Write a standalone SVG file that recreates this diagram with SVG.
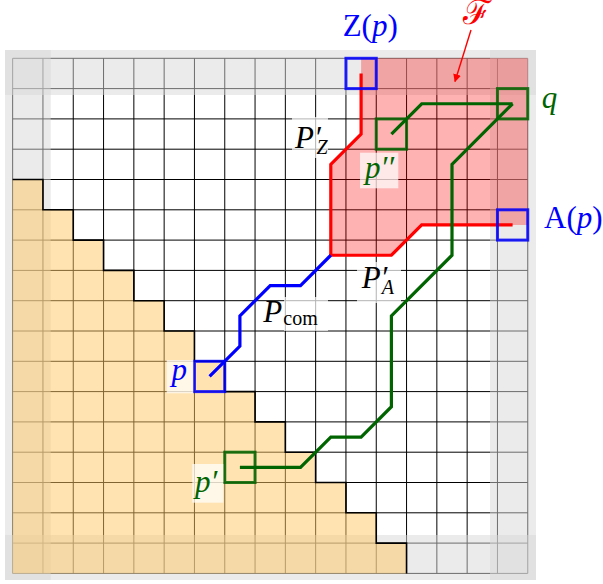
<svg xmlns="http://www.w3.org/2000/svg" width="603" height="584" viewBox="0 0 603 584">
<defs>
<style>
.grid{fill:none;stroke:#000;stroke-width:1}
.strip{fill:#d8d8d8;fill-opacity:0.5}
.bg{fill:#fff;fill-opacity:0.7}
.t{font-family:"Liberation Serif","DejaVu Serif",serif;font-size:31px}
.i{font-style:italic}
.sub{font-size:20px}
.path{fill:none;stroke-width:3.2;stroke-linejoin:miter}
.box{fill:none;stroke-width:3;stroke-opacity:0.85}
.blue{fill:#0000ff}
.green{fill:#006400}
.black{fill:#000}
</style>
<marker id="arr" viewBox="0 0 10 10" refX="9" refY="5" markerWidth="8" markerHeight="8" orient="auto" markerUnits="userSpaceOnUse">
<path d="M0 0 L10 5 L0 10 Z" fill="#ff0000"/>
</marker>
</defs>
<rect width="603" height="584" fill="#fff"/>
<g id="grid">
<path class="grid" d="M12.65 58.3V573.4M42.95 58.3V573.4M73.25 58.3V573.4M103.55 58.3V573.4M133.85 58.3V573.4M164.15 58.3V573.4M194.45 58.3V573.4M224.75 58.3V573.4M255.05 58.3V573.4M285.35 58.3V573.4M315.65 58.3V573.4M345.95 58.3V573.4M376.25 58.3V573.4M406.55 58.3V573.4M436.85 58.3V573.4M467.15 58.3V573.4M497.45 58.3V573.4M527.75 58.3V573.4M12.65 58.3H527.75M12.65 88.6H527.75M12.65 118.9H527.75M12.65 149.2H527.75M12.65 179.5H527.75M12.65 209.8H527.75M12.65 240.1H527.75M12.65 270.4H527.75M12.65 300.7H527.75M12.65 331H527.75M12.65 361.3H527.75M12.65 391.6H527.75M12.65 421.9H527.75M12.65 452.2H527.75M12.65 482.5H527.75M12.65 512.8H527.75M12.65 543.1H527.75M12.65 573.4H527.75"/>
</g>
<g id="frame">
<rect class="strip" x="5" y="50" width="531" height="45"/>
<rect class="strip" x="5" y="535" width="531" height="45"/>
<rect class="strip" x="5" y="50" width="45.7" height="530"/>
<rect class="strip" x="490" y="50" width="46" height="530"/>
</g>
<g id="region-F">
<path d="M361.1 58.3V134.05L330.8 164.35V255.25H391.4L421.7 224.95H527.75V58.3Z" fill="#ff0000" fill-opacity="0.3"/>
</g>
<g id="staircase">
<path d="M12.65 179.5H42.95V209.8H73.25V240.1H103.55V270.4H133.85V300.7H164.15V331H194.45V361.3H224.75V391.6H255.05V421.9H285.35V452.2H315.65V482.5H345.95V512.8H376.25V543.1H406.55V573.4H12.65Z" fill="#ffc861" fill-opacity="0.5"/>
<path d="M12.65 179.5H42.95V209.8H73.25V240.1H103.55V270.4H133.85V300.7H164.15V331H194.45V361.3H224.75V391.6H255.05V421.9H285.35V452.2H315.65V482.5H345.95V512.8H376.25V543.1H406.55V573.4" fill="none" stroke="#000" stroke-width="1.6"/>
</g>
<g id="connectors">
<polyline id="P_Z_A" class="path" stroke="#ff0000" points="361.1,73.45 361.1,134.05 330.8,164.35 330.8,255.25 391.4,255.25 421.7,224.95 512.6,224.95"/>
<polyline id="P_com" class="path" stroke="#0000ff" points="209.6,376.45 239.9,346.15 239.9,315.85 270.2,285.55 300.5,285.55 330.8,255.25"/>
<polyline id="path-p1-q" class="path" stroke="#006400" points="239.9,467.35 300.5,467.35 330.8,437.05 361.1,437.05 391.4,406.75 391.4,315.85 452,255.25 452,164.35 512.6,103.75"/>
<polyline id="path-p2-q" class="path" stroke="#006400" points="391.4,134.05 421.7,103.75 512.6,103.75"/>
<line id="arrow-F" x1="471" y1="30" x2="455" y2="81.5" stroke="#ff0000" stroke-width="1.4" marker-end="url(#arr)"/>
</g>
<g id="node-p">
<rect class="box" x="194.45" y="361.3" width="30.3" height="30.3" stroke="#0000ff"/>
<rect class="bg" x="166.7" y="360" width="26.6" height="33.3"/>
<text class="t i blue" x="171.5" y="380">p</text>
</g>
<g id="node-Zp">
<rect class="box" x="345.95" y="58.3" width="30.3" height="30.3" stroke="#0000ff"/>
<text class="t blue" x="342.7" y="36">Z(<tspan class="i">p</tspan>)</text>
</g>
<g id="node-Ap">
<rect class="box" x="497.45" y="209.8" width="30.3" height="30.3" stroke="#0000ff"/>
<text class="t blue" x="544" y="228.3">A(<tspan class="i">p</tspan>)</text>
</g>
<g id="node-p1">
<rect class="box" x="224.75" y="452.2" width="30.3" height="30.3" stroke="#006400"/>
<rect class="bg" x="192.3" y="464" width="31" height="38.7"/>
<text class="t i green" x="195" y="491.7">p′</text>
</g>
<g id="node-p2">
<rect class="box" x="376.25" y="118.9" width="30.3" height="30.3" stroke="#006400"/>
<rect class="bg" x="360" y="152.7" width="38.3" height="35.6"/>
<text class="t i green" x="365" y="178">p′′</text>
</g>
<g id="node-q">
<rect class="box" x="497.45" y="88.6" width="30.3" height="30.3" stroke="#006400"/>
<text class="t i green" x="541.7" y="108">q</text>
</g>
<g id="label-F">
<text x="463" y="24" font-family="DejaVu Serif, serif" font-size="34" fill="#ff0000">ℱ</text>
</g>
<g id="label-PZ">
<rect class="bg" x="292" y="117" width="36" height="41"/>
<text class="t i black" x="295" y="147.7">P′<tspan class="sub" x="316.5" y="154.3">Z</tspan></text>
</g>
<g id="label-PA">
<rect class="bg" x="357" y="262" width="44" height="41"/>
<text class="t i black" x="361.7" y="287.7">P′<tspan class="sub" x="381.7" y="294">A</tspan></text>
</g>
<g id="label-Pcom">
<rect class="bg" x="284" y="297" width="44" height="34"/>
<text class="t black" x="263.3" y="321.7"><tspan class="i">P</tspan><tspan class="sub" x="283.3" y="325">com</tspan></text>
</g>
</svg>
